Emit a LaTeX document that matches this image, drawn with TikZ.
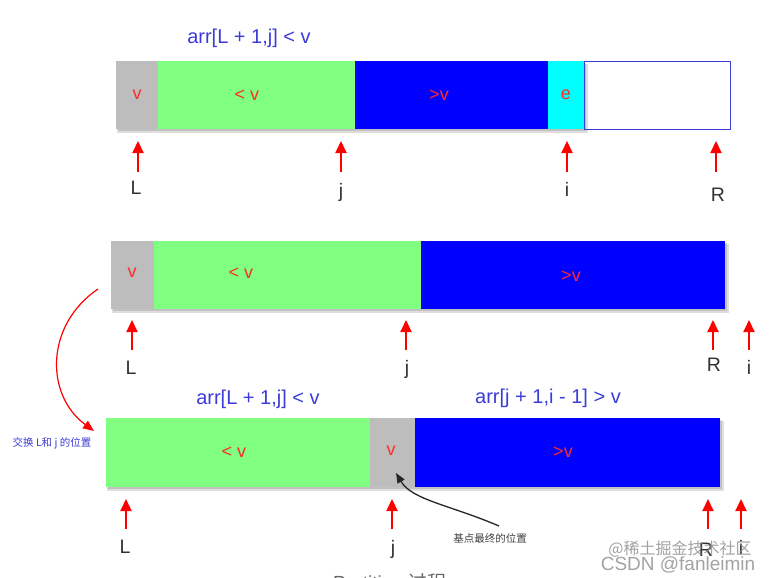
\documentclass[tikz,border=0pt]{standalone}
\usepackage{fontspec}
\setmainfont{Liberation Sans}
\newfontfamily\cjk{Noto Sans CJK SC}
\usetikzlibrary{arrows.meta}
\definecolor{cgray}{HTML}{BDBDBD}
\definecolor{cgreen}{HTML}{80FF80}
\definecolor{cblue}{HTML}{0000FF}
\definecolor{ccyan}{HTML}{00FFFF}
\definecolor{lblue}{HTML}{3C3CD8}
\definecolor{lettr}{HTML}{333333}
\definecolor{tred}{HTML}{FF2A2A}
\tikzset{
 seg/.style={anchor=north west, inner sep=0, outer sep=0, minimum height=68},
 intext/.style={text=tred, inner sep=0, font=\fontsize{18}{18}\selectfont},
 idx/.style={text=lettr, anchor=base, inner sep=0, font=\fontsize{19.5}{19.5}\selectfont},
 upar/.style={red, line width=2, -{Triangle[length=12, width=11]}},
 rangelbl/.style={text=lblue, inner sep=0, font=\fontsize{20}{20}\selectfont},
 shd/.style={fill=black, opacity=0.13},
}
\begin{document}
\begin{tikzpicture}[x=1pt,y=-1pt]
\useasboundingbox[fill=white] (0,0) rectangle (769,578);

% ---------- row 1 ----------
\fill[shd] (117,64) rectangle (588,133);
\fill[shd] (118,63) rectangle (586,131);
\node[seg, fill=cgray, minimum width=42] (g1) at (116,61) {};
\node[seg, fill=cgreen, minimum width=197] (gr1) at (158,61) {};
\node[seg, fill=cblue, minimum width=193] (b1) at (355,61) {};
\node[seg, fill=ccyan, minimum width=36] (c1) at (548,61) {};
\node[seg, draw=lblue, line width=1, minimum width=146, minimum height=67] (w1) at (584,62) {};
\node[intext] (t1a) at (137,95) {v};
\node[intext] (t1b) at (247,95) {< v};
\node[intext] (t1c) at (439,95) {>v};
\node[intext] (t1d) at (566,95) {e};
\node[rangelbl] (r1) at (249,38) {arr[L + 1,j] < v};

\coordinate (a1Lt) at (138,172); \coordinate (a1Lh) at (138,141);
\coordinate (a1jt) at (341,172); \coordinate (a1jh) at (341,141);
\coordinate (a1it) at (567,172); \coordinate (a1ih) at (567,141);
\coordinate (a1Rt) at (716,172); \coordinate (a1Rh) at (716,141);
\draw[upar] (a1Lt) -- (a1Lh);
\draw[upar] (a1jt) -- (a1jh);
\draw[upar] (a1it) -- (a1ih);
\draw[upar] (a1Rt) -- (a1Rh);
\node[idx] (l1L) at (136,194) {L};
\node[idx] (l1j) at (341,197) {j};
\node[idx] (l1i) at (567,196) {i};
\node[idx] (l1R) at (718,201) {R};

% ---------- row 2 ----------
\fill[shd] (112,244) rectangle (729,313);
\fill[shd] (113,243) rectangle (727,311);
\node[seg, fill=cgray, minimum width=43] (g2) at (111,241) {};
\node[seg, fill=cgreen, minimum width=267] (gr2) at (154,241) {};
\node[seg, fill=cblue, minimum width=304] (b2) at (421,241) {};
\node[intext] (t2a) at (132,273) {v};
\node[intext] (t2b) at (241,273) {< v};
\node[intext] (t2c) at (571,276) {>v};

\coordinate (a2Lt) at (132,350); \coordinate (a2Lh) at (132,320);
\coordinate (a2jt) at (406,350); \coordinate (a2jh) at (406,320);
\coordinate (a2Rt) at (713,350); \coordinate (a2Rh) at (713,320);
\coordinate (a2it) at (749,350); \coordinate (a2ih) at (749,320);
\draw[upar] (a2Lt) -- (a2Lh);
\draw[upar] (a2jt) -- (a2jh);
\draw[upar] (a2Rt) -- (a2Rh);
\draw[upar] (a2it) -- (a2ih);
\node[idx] (l2L) at (131,374) {L};
\node[idx] (l2j) at (407,374) {j};
\node[idx] (l2R) at (714,371) {R};
\node[idx] (l2i) at (749,374) {i};

% ---------- swap arrow ----------
\coordinate (swS) at (98,289);
\coordinate (swE) at (94,431);
\draw[red, line width=1.2, -{Triangle[length=11, width=9]}] (swS) .. controls (45,325) and (45,395) .. (swE);
\node[text=lblue, inner sep=0, font=\cjk\fontsize{10.5}{11}\selectfont] (swT) at (52,443) {交换 L和 j 的位置};

% ---------- row 3 ----------
\fill[shd] (107,421) rectangle (724,491);
\fill[shd] (108,420) rectangle (722,489);
\node[seg, fill=cgreen, minimum width=264, minimum height=69] (gr3) at (106,418) {};
\node[seg, fill=cgray, minimum width=45, minimum height=69] (g3) at (370,418) {};
\node[seg, fill=cblue, minimum width=305, minimum height=69] (b3) at (415,418) {};
\node[intext] (t3a) at (234,452) {< v};
\node[intext] (t3b) at (391,451) {v};
\node[intext] (t3c) at (563,452) {>v};
\node[rangelbl] (r3a) at (258,399) {arr[L + 1,j] < v};
\node[rangelbl] (r3b) at (548,398) {arr[j + 1,i - 1] > v};

\coordinate (a3Lt) at (126,529); \coordinate (a3Lh) at (126,499);
\coordinate (a3jt) at (392,529); \coordinate (a3jh) at (392,499);
\coordinate (a3Rt) at (708,529); \coordinate (a3Rh) at (708,499);
\coordinate (a3it) at (741,529); \coordinate (a3ih) at (741,499);
\draw[upar] (a3Lt) -- (a3Lh);
\draw[upar] (a3jt) -- (a3jh);
\draw[upar] (a3Rt) -- (a3Rh);
\draw[upar] (a3it) -- (a3ih);
\node[idx] (l3L) at (125,553) {L};
\node[idx] (l3j) at (393,554) {j};
\node[idx] (l3R) at (706,556) {R};
\node[idx] (l3i) at (741,554) {i};

% ---------- pivot annotation ----------
\coordinate (pvS) at (499,526);
\coordinate (pvE) at (396,473);
\draw[black!85, line width=1.3, -{Triangle[length=10, width=8]}] (pvS) .. controls (450,505) and (412,500) .. (pvE);
\node[text=black!75, inner sep=0, font=\cjk\fontsize{10.5}{11}\selectfont] (pvT) at (490,538) {基点最终的位置};

% ---------- watermark and caption ----------
\node[text=black!45, opacity=0.8, inner sep=0, font=\cjk\fontsize{16}{16}\selectfont] (wm1) at (680,549) {@稀土掘金技术社区};
\node[text=black!45, opacity=0.8, inner sep=0, font=\fontsize{19}{19}\selectfont] (wm2) at (678,565) {CSDN @fanleimin};
\node[text=black!60, anchor=north west, inner sep=0, font=\fontsize{19}{19}\selectfont] (cap) at (333,573.5) {Partition {\cjk 过程}};
\end{tikzpicture}
\end{document}
